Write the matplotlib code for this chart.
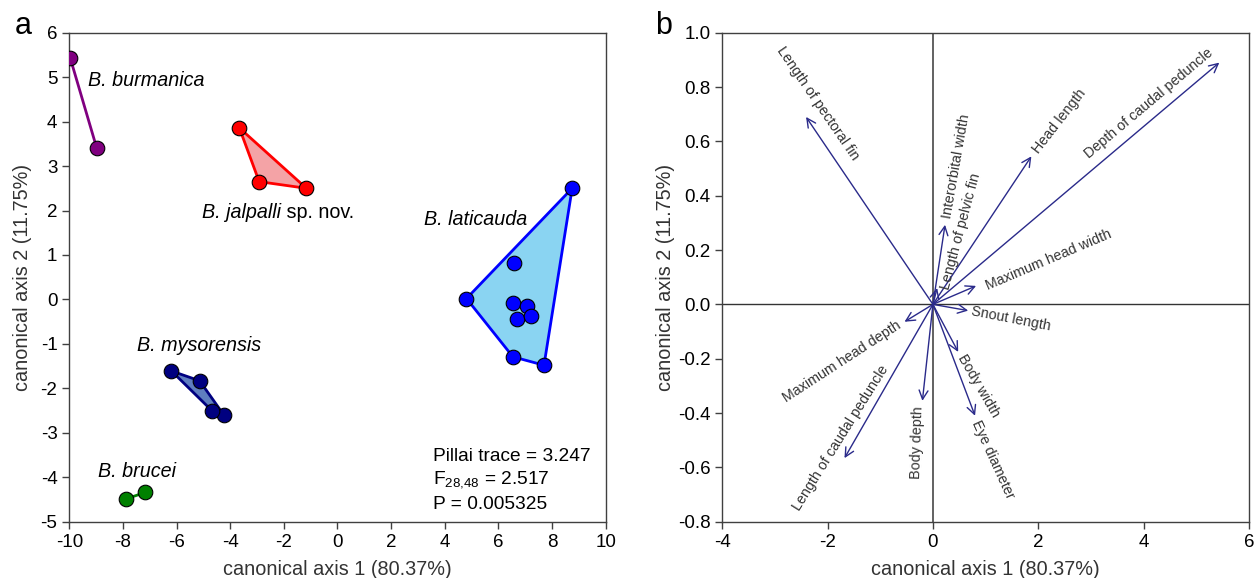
import matplotlib
matplotlib.use("Agg")
import matplotlib.pyplot as plt
from matplotlib.patches import Polygon

plt.rcParams['font.family'] = ['Liberation Sans', 'DejaVu Sans']
plt.rcParams['axes.unicode_minus'] = False
plt.rcParams['mathtext.fontset'] = 'custom'
plt.rcParams['mathtext.rm'] = 'Liberation Sans'
plt.rcParams['mathtext.it'] = 'Liberation Sans:italic'

# ---------------- Panel a data ----------------
burmanica_x = [-9.96, -8.98]
burmanica_y = [5.42, 3.41]
jalpalli_x = [-3.66, -2.92, -1.16]
jalpalli_y = [3.86, 2.65, 2.50]
laticauda_x = [8.75, 4.81, 6.60, 6.53, 7.06, 6.70, 7.20, 6.54, 7.70]
laticauda_y = [2.50, 0.02, 0.83, -0.08, -0.15, -0.45, -0.37, -1.29, -1.48]
laticauda_hull = [1, 0, 8, 7]  # indices: polygon order
mysorensis_x = [-6.19, -5.14, -4.25, -4.67]
mysorensis_y = [-1.61, -1.83, -2.59, -2.51]
brucei_x = [-7.90, -7.16]
brucei_y = [-4.49, -4.34]

# ---------------- Panel b data ----------------
var_names = ["Length of pectoral fin", "Interorbital width", "Length of pelvic fin",
             "Head length", "Depth of caudal peduncle", "Maximum head width",
             "Snout length", "Maximum head depth", "Body width", "Eye diameter",
             "Body depth", "Length of caudal peduncle"]
var_x = [-2.41, 0.23, 0.08, 1.87, 5.44, 0.82, 0.67, -0.54, 0.48, 0.80, -0.20, -1.68]
var_y = [0.69, 0.293, 0.06, 0.545, 0.89, 0.068, -0.023, -0.064, -0.175, -0.41, -0.355, -0.566]
lab_x = [-2.19, 0.44, 0.53, 2.41, 4.10, 2.19, 1.48, -1.73, 0.86, 1.14, -0.29, -1.75]
lab_y = [0.74, 0.51, 0.27, 0.676, 0.74, 0.163, -0.054, -0.21, -0.30, -0.57, -0.51, -0.49]
lab_rot = [-55.5, 80, 75, 52, 40, 23, -11, 33, -60, -65.5, 88, 58]

fig = plt.figure(figsize=(12.6, 5.78), dpi=100)
axa = fig.add_axes([0.0550, 0.0974, 0.4257, 0.8460])
axb = fig.add_axes([0.5733, 0.0974, 0.4178, 0.8460])

spine_col = '#404040'
for ax in (axa, axb):
    for s in ax.spines.values():
        s.set_color(spine_col)
        s.set_linewidth(1.0)
    ax.tick_params(direction='out', length=5, width=1.0, color=spine_col,
                   labelsize=13.5, top=False, right=False)

ms = 10.5
# burmanica
axa.plot(burmanica_x, burmanica_y, '-', color='#800080', lw=2, zorder=2)
axa.plot(burmanica_x, burmanica_y, 'o', color='#800080', mec='black', mew=0.8, ms=ms, zorder=3)
# jalpalli
axa.add_patch(Polygon(list(zip(jalpalli_x, jalpalli_y)), closed=True,
                      facecolor='#f4a3a6', edgecolor='#ff0000', lw=2, zorder=1))
axa.plot(jalpalli_x, jalpalli_y, 'o', color='#ff0000', mec='black', mew=0.8, ms=ms, zorder=3)
# laticauda
hull = [(laticauda_x[i], laticauda_y[i]) for i in laticauda_hull]
axa.add_patch(Polygon(hull, closed=True, facecolor='#8ad4f2', edgecolor='#0000ff', lw=2, zorder=1))
axa.plot(laticauda_x, laticauda_y, 'o', color='#0000ff', mec='black', mew=0.8, ms=ms, zorder=3)
# mysorensis
axa.add_patch(Polygon(list(zip(mysorensis_x, mysorensis_y)), closed=True,
                      facecolor='#5f7ec0', edgecolor='#000080', lw=2, zorder=1))
axa.plot(mysorensis_x, mysorensis_y, 'o', color='#000080', mec='black', mew=0.8, ms=ms, zorder=3)
# brucei
axa.plot(brucei_x, brucei_y, '-', color='#008000', lw=2, zorder=2)
axa.plot(brucei_x, brucei_y, 'o', color='#008000', mec='black', mew=0.8, ms=ms, zorder=3)

lfs = 14.2
axa.text(-9.32, 4.93, "B. burmanica", style='italic', fontsize=lfs, va='center', ha='left')
tj = axa.text(-5.06, 1.95, "B. jalpalli", style='italic', fontsize=lfs, va='center', ha='left')
axa.annotate(" sp. nov.", xy=(1, 0.5), xycoords=tj, fontsize=lfs, va='center', ha='left')
axa.text(3.22, 1.80, "B. laticauda", style='italic', fontsize=lfs, va='center', ha='left')
axa.text(-7.48, -1.03, "B. mysorensis", style='italic', fontsize=lfs, va='center', ha='left')
axa.text(-8.93, -3.87, "B. brucei", style='italic', fontsize=lfs, va='center', ha='left')
sfs = 13.8
axa.text(3.55, -3.54, "Pillai trace = 3.247", fontsize=sfs, va='center', ha='left')
axa.text(3.55, -4.06, "F$_{28{,}48}$ = 2.517", fontsize=sfs, va='center', ha='left')
axa.text(3.55, -4.61, "P = 0.005325", fontsize=sfs, va='center', ha='left')

axa.set_xlim(-10, 10)
axa.set_ylim(-5, 6)
axa.set_xticks(range(-10, 11, 2))
axa.set_yticks(range(-5, 7, 1))
axa.set_xlabel("canonical axis 1 (80.37%)", fontsize=14.3, color='#333333', labelpad=7)
axa.set_ylabel("canonical axis 2 (11.75%)", fontsize=14.3, color='#333333', labelpad=6.5)
fig.text(0.012, 0.955, "a", fontsize=22, va='center', ha='left')

# Panel b
axb.axhline(0, color='#333333', lw=1.0, zorder=1)
axb.axvline(0, color='#555555', lw=1.3, zorder=1)
arrow_col = '#2a2a8a'
for vx, vy in zip(var_x, var_y):
    axb.annotate("", xy=(vx, vy), xytext=(0, 0),
                 arrowprops=dict(arrowstyle='->', color=arrow_col, lw=1.0,
                                 mutation_scale=16, shrinkA=0, shrinkB=0), zorder=2)
for name, tx, ty, r in zip(var_names, lab_x, lab_y, lab_rot):
    axb.text(tx, ty, name, rotation=r, rotation_mode='anchor', ha='center', va='center',
             fontsize=10.3, color='#333333')

axb.set_xlim(-4, 6)
axb.set_ylim(-0.8, 1.0)
axb.set_xticks(range(-4, 7, 2))
yt = [-0.8, -0.6, -0.4, -0.2, 0.0, 0.2, 0.4, 0.6, 0.8, 1.0]
axb.set_yticks(yt)
axb.set_yticklabels([f"{v:.1f}" for v in yt])
axb.set_xlabel("canonical axis 1 (80.37%)", fontsize=14.3, color='#333333', labelpad=7)
axb.set_ylabel("canonical axis 2 (11.75%)", fontsize=14.3, color='#333333', labelpad=2)
fig.text(0.52, 0.955, "b", fontsize=22, va='center', ha='left')

fig.savefig("out.png", dpi=100)
